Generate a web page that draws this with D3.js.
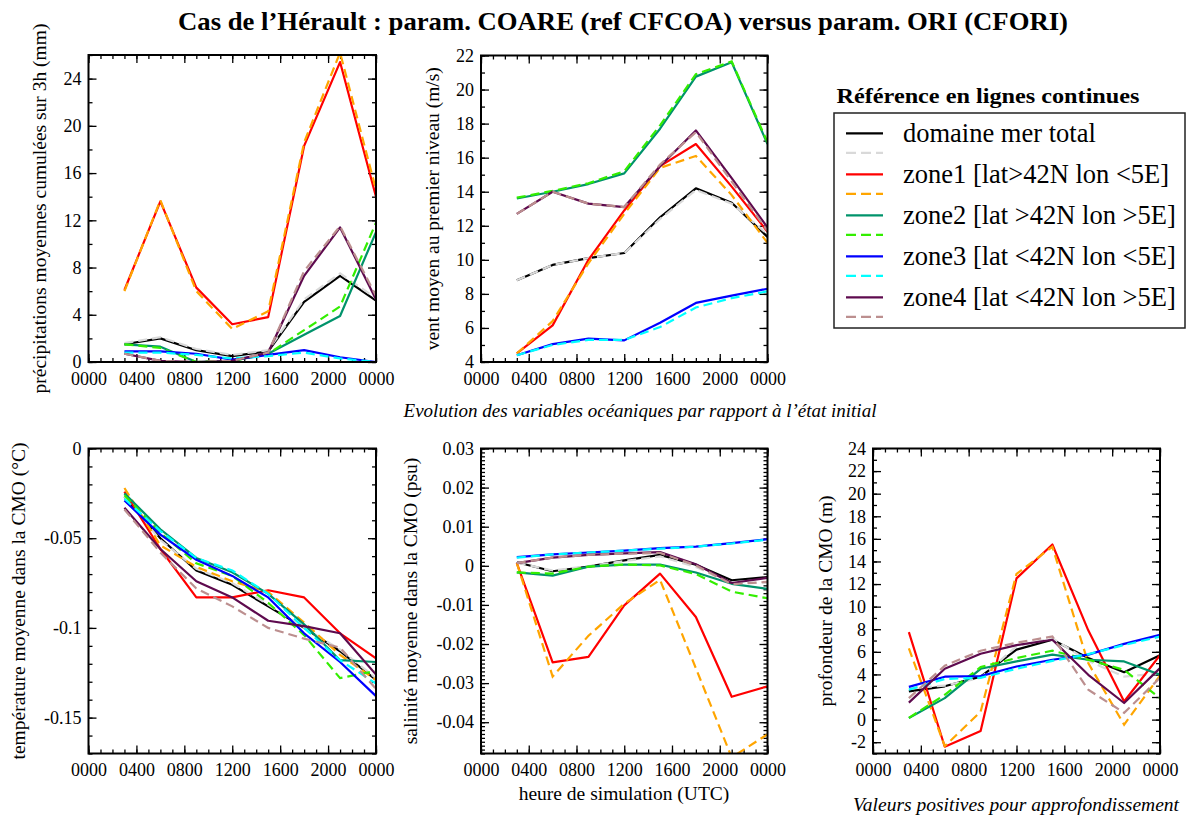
<!DOCTYPE html>
<html><head><meta charset="utf-8">
<script src="https://cdn.jsdelivr.net/npm/d3@7"></script>
<style>
body{margin:0;background:#fff}
svg{display:block}
text{font-family:"Liberation Serif","Times New Roman",serif;fill:#000}
</style>
</head><body>
<svg id="c" width="1186" height="816"></svg>
<script>
// ---------- categories / ticks ----------
const hours = [3, 6, 9, 12, 15, 18, 21, 24];
const xTickValues = [0, 4, 8, 12, 16, 20, 24];
const xTickLabels = ["0000", "0400", "0800", "1200", "1600", "2000", "0000"];
const seriesNames = ["domaine mer total", "zone1 [lat>42N lon <5E]", "zone2 [lat >42N lon >5E]", "zone3 [lat <42N lon <5E]", "zone4 [lat <42N lon >5E]"];
const refColors = ["#000000", "#ff0000", "#00936b", "#0000ff", "#5e0a4e"];
const oriColors = ["#d9d9d9", "#ffa500", "#33ee00", "#00ffff", "#bc8f8f"];

// ---------- series values (rows: total, zone1, zone2, zone3, zone4) ----------
const precipRef = [
  [1.5, 2.0, 1.0, 0.5, 0.9, 5.1, 7.3, 5.2],
  [6.1, 13.6, 6.3, 3.2, 3.8, 18.3, 25.4, 14.0],
  [1.5, 1.3, 0.0, 0.1, 0.7, 2.3, 3.9, 11.0],
  [0.9, 0.9, 0.7, 0.2, 0.6, 1.0, 0.4, 0.0],
  [0.7, 0.1, 0.0, 0.1, 0.8, 7.3, 11.4, 5.3]
];
const precipOri = [
  [1.6, 2.1, 1.1, 0.6, 1.0, 5.3, 7.5, 5.4],
  [6.0, 13.7, 6.0, 2.8, 4.3, 18.6, 26.2, 14.6],
  [1.5, 1.2, 0.0, 0.1, 0.7, 2.7, 4.7, 11.8],
  [0.8, 0.8, 0.6, 0.3, 0.5, 0.8, 0.3, 0.0],
  [0.7, 0.1, 0.0, 0.1, 0.8, 7.7, 11.5, 5.6]
];
const windRef = [
  [8.8, 9.7, 10.1, 10.4, 12.5, 14.2, 13.35, 11.35],
  [4.5, 6.15, 10.0, 12.9, 15.5, 16.8, 14.3, 11.65],
  [13.6, 14.0, 14.45, 15.08, 17.7, 20.76, 21.6, 16.8],
  [4.4, 5.05, 5.37, 5.27, 6.3, 7.47, 7.9, 8.3],
  [12.7, 14.0, 13.3, 13.1, 15.5, 17.6, 14.8, 11.9]
];
const windOri = [
  [8.8, 9.7, 10.1, 10.4, 12.4, 14.1, 13.3, 11.5],
  [4.5, 6.4, 9.8, 12.7, 15.4, 16.1, 13.8, 11.0],
  [13.65, 14.05, 14.5, 15.2, 17.9, 20.9, 21.65, 16.9],
  [4.4, 5.0, 5.3, 5.3, 6.05, 7.2, 7.75, 8.15],
  [12.7, 14.0, 13.3, 13.1, 15.6, 17.5, 14.6, 11.7]
];
const tempRef = [
  [-0.027, -0.050, -0.068, -0.076, -0.088, -0.100, -0.113, -0.129],
  [-0.024, -0.056, -0.083, -0.083, -0.079, -0.083, -0.103, -0.117],
  [-0.025, -0.045, -0.061, -0.069, -0.081, -0.098, -0.118, -0.119],
  [-0.029, -0.048, -0.062, -0.071, -0.083, -0.103, -0.119, -0.138],
  [-0.033, -0.056, -0.074, -0.083, -0.096, -0.099, -0.103, -0.126]
];
const tempOri = [
  [-0.027, -0.051, -0.067, -0.075, -0.087, -0.100, -0.112, -0.128],
  [-0.022, -0.054, -0.066, -0.074, -0.080, -0.097, -0.115, -0.129],
  [-0.026, -0.047, -0.064, -0.071, -0.086, -0.104, -0.128, -0.124],
  [-0.028, -0.046, -0.061, -0.068, -0.081, -0.100, -0.118, -0.131],
  [-0.034, -0.058, -0.078, -0.088, -0.100, -0.106, -0.111, -0.134]
];
const salRef = [
  [0.0009, -0.0014, -0.0002, 0.0014, 0.0028, 0.0003, -0.0037, -0.0029],
  [0.0007, -0.0247, -0.0233, -0.0101, -0.0020, -0.0131, -0.0335, -0.0308],
  [-0.0017, -0.0025, -0.0002, 0.0003, 0.0003, -0.0017, -0.0046, -0.0059],
  [0.0022, 0.0029, 0.0034, 0.0039, 0.0045, 0.0049, 0.0058, 0.0068],
  [0.0007, 0.0021, 0.0028, 0.0032, 0.0035, 0.0004, -0.0044, -0.0031]
];
const salOri = [
  [0.0008, -0.0012, -0.0001, 0.0012, 0.0024, -0.0003, -0.0045, -0.0043],
  [0.0007, -0.0283, -0.0179, -0.0097, -0.0036, -0.0262, -0.0490, -0.0431],
  [-0.0017, -0.0020, -0.0002, 0.0003, 0.0001, -0.0021, -0.0066, -0.0083],
  [0.0021, 0.0029, 0.0034, 0.0039, 0.0044, 0.0049, 0.0057, 0.0067],
  [0.0007, 0.0021, 0.0028, 0.0031, 0.0033, 0.0001, -0.0047, -0.0041]
];
const depthRef = [
  [2.5, 2.95, 3.8, 6.2, 7.07, 5.45, 4.2, 5.7],
  [7.75, -2.4, -1.0, 12.5, 15.5, 7.9, 1.6, 5.7],
  [0.15, 1.9, 4.5, 5.15, 5.75, 5.3, 5.15, 3.97],
  [2.9, 3.8, 3.85, 4.7, 5.3, 5.75, 6.7, 7.5],
  [1.5, 4.5, 5.83, 6.6, 7.07, 3.97, 1.47, 4.56]
];
const depthOri = [
  [2.8, 3.0, 3.7, 6.5, 7.2, 5.2, 3.8, 4.1],
  [6.3, -2.35, 0.7, 12.9, 15.3, 5.0, -0.45, 3.9],
  [0.15, 2.2, 4.65, 5.45, 6.1, 5.3, 4.4, 1.9],
  [2.65, 3.6, 3.7, 4.5, 5.2, 5.8, 6.6, 7.35],
  [1.9, 4.77, 6.1, 6.8, 7.36, 2.65, 0.6, 3.7]
];

// ---------- y tick labels ----------
const precipTicks = [0, 4, 8, 12, 16, 20, 24];
const windTicks = [4, 6, 8, 10, 12, 14, 16, 18, 20, 22];
const tempTicks = [0, -0.05, -0.1, -0.15];
const tempTickLabels = ["0", "-0.05", "-0.1", "-0.15"];
const salTicks = [0.03, 0.02, 0.01, 0, -0.01, -0.02, -0.03, -0.04];
const salTickLabels = ["0.03", "0.02", "0.01", "0", "-0.01", "-0.02", "-0.03", "-0.04"];
const depthTicks = [-2, 0, 2, 4, 6, 8, 10, 12, 14, 16, 18, 20, 22, 24];

// ---------- layout ----------
const svg = d3.select("#c");
svg.append("rect").attr("width", 1186).attr("height", 816).attr("fill", "#fff");

const panels = [
  {ref: precipRef, ori: precipOri, dom: [0, 26], ticks: precipTicks, labels: precipTicks.map(String), minorStep: 2,
   box: [88.5, 55, 376, 362], label: "précipitations moyennes cumulées sur 3h (mm)", lx: 46},
  {ref: windRef, ori: windOri, dom: [4, 22], ticks: windTicks, labels: windTicks.map(String), minorStep: 1,
   box: [481, 55.5, 767.5, 362], label: "vent moyen au premier niveau (m/s)", lx: 439},
  {ref: tempRef, ori: tempOri, dom: [-0.17, 0], ticks: tempTicks, labels: tempTickLabels, minorStep: 0.01,
   box: [88.5, 448.5, 376, 753.5], label: "température moyenne dans la CMO (°C)", lx: 25},
  {ref: salRef, ori: salOri, dom: [-0.048, 0.03], ticks: salTicks, labels: salTickLabels, minorStep: 0.001,
   box: [481, 448.5, 767.5, 753.5], label: "salinité moyenne dans la CMO (psu)", lx: 417},
  {ref: depthRef, ori: depthOri, dom: [-3, 24], ticks: depthTicks, labels: depthTicks.map(String), minorStep: 1,
   box: [873, 448.5, 1160, 753.5], label: "profondeur de la CMO (m)", lx: 832}
];

panels.forEach((p, pi) => {
  const [x0, y0, x1, y1] = p.box;
  const x = d3.scaleLinear().domain([0, 24]).range([x0, x1]);
  const y = d3.scaleLinear().domain(p.dom).range([y1, y0]);
  const g = svg.append("g");
  const clipId = "clip" + pi;
  g.append("clipPath").attr("id", clipId).append("rect")
    .attr("x", x0).attr("y", y0).attr("width", x1 - x0).attr("height", y1 - y0);

  // minor/major ticks
  const eps = 1e-9;
  const minorY = d3.range(Math.ceil(p.dom[0] / p.minorStep - eps), Math.floor(p.dom[1] / p.minorStep + eps) + 1)
    .map(k => +(k * p.minorStep).toFixed(6));
  const minorX = d3.range(0, 25, 1);
  const tickStyle = sel => { sel.select(".domain").remove(); sel.selectAll("line").attr("stroke", "#000").attr("stroke-width", 1.3); };

  g.append("g").attr("transform", `translate(${x0},0)`).call(d3.axisLeft(y).tickValues(minorY).tickSize(-4).tickFormat("")).call(tickStyle);
  g.append("g").attr("transform", `translate(${x1},0)`).call(d3.axisRight(y).tickValues(minorY).tickSize(-4).tickFormat("")).call(tickStyle);
  g.append("g").attr("transform", `translate(0,${y1})`).call(d3.axisBottom(x).tickValues(minorX).tickSize(-4).tickFormat("")).call(tickStyle);
  g.append("g").attr("transform", `translate(0,${y0})`).call(d3.axisTop(x).tickValues(minorX).tickSize(-4).tickFormat("")).call(tickStyle);

  const yl = g.append("g").attr("transform", `translate(${x0},0)`)
    .call(d3.axisLeft(y).tickValues(p.ticks).tickSize(-8).tickPadding(7).tickFormat((d, i) => p.labels[i]))
    .call(tickStyle);
  yl.selectAll("text").attr("font-size", 18).attr("font-family", "Liberation Serif").attr("fill", "#000");
  g.append("g").attr("transform", `translate(${x1},0)`).call(d3.axisRight(y).tickValues(p.ticks).tickSize(-8).tickFormat("")).call(tickStyle);
  const xl = g.append("g").attr("transform", `translate(0,${y1})`)
    .call(d3.axisBottom(x).tickValues(xTickValues).tickSize(-8).tickPadding(10).tickFormat((d, i) => xTickLabels[i]))
    .call(tickStyle);
  xl.selectAll("text").attr("font-size", 18).attr("font-family", "Liberation Serif").attr("fill", "#000");
  g.append("g").attr("transform", `translate(0,${y0})`).call(d3.axisTop(x).tickValues(xTickValues).tickSize(-8).tickFormat("")).call(tickStyle);

  // lines
  const line = d3.line().x((d, i) => x(hours[i])).y(d => y(d));
  const lg = g.append("g").attr("clip-path", `url(#${clipId})`);
  for (let s = 0; s < 5; s++) {
    lg.append("path").attr("d", line(p.ref[s])).attr("fill", "none")
      .attr("stroke", refColors[s]).attr("stroke-width", 2.2).attr("stroke-linejoin", "round");
    lg.append("path").attr("d", line(p.ori[s])).attr("fill", "none")
      .attr("stroke", oriColors[s]).attr("stroke-width", 2.2).attr("stroke-dasharray", "9,5");
  }

  // frame
  g.append("rect").attr("x", x0).attr("y", y0).attr("width", x1 - x0).attr("height", y1 - y0)
    .attr("fill", "none").attr("stroke", "#000").attr("stroke-width", 2);

  // y label
  const cy = (y0 + y1) / 2;
  g.append("text").attr("transform", `translate(${p.lx},${cy}) rotate(-90)`)
    .attr("text-anchor", "middle").attr("font-size", 19.5).text(p.label);
});

// ---------- titles ----------
svg.append("text").attr("x", 623).attr("y", 30).attr("text-anchor", "middle")
  .attr("font-size", 25).attr("font-weight", "bold")
  .attr("textLength", 890).attr("lengthAdjust", "spacingAndGlyphs")
  .text("Cas de l\u2019Hérault : param. COARE (ref CFCOA) versus param. ORI (CFORI)");
svg.append("text").attr("x", 640).attr("y", 417).attr("text-anchor", "middle")
  .attr("font-size", 19).attr("font-style", "italic")
  .text("Evolution des variables océaniques par rapport à l\u2019état initial");
svg.append("text").attr("x", 624).attr("y", 800).attr("text-anchor", "middle")
  .attr("font-size", 19.5).text("heure de simulation (UTC)");
svg.append("text").attr("x", 1179).attr("y", 811).attr("text-anchor", "end")
  .attr("font-size", 19.5).attr("font-style", "italic")
  .text("Valeurs positives pour approfondissement");

// ---------- legend ----------
const leg = svg.append("g");
leg.append("text").attr("x", 836.5).attr("y", 103).attr("font-size", 22).attr("font-weight", "bold")
  .attr("textLength", 303).attr("lengthAdjust", "spacingAndGlyphs")
  .text("Référence en lignes continues");
leg.append("rect").attr("x", 834).attr("y", 113).attr("width", 351).attr("height", 215)
  .attr("fill", "#fff").attr("stroke", "#222").attr("stroke-width", 1.5);
seriesNames.forEach((name, i) => {
  const ys = 133.3 + i * 41;
  leg.append("line").attr("x1", 846).attr("x2", 883).attr("y1", ys).attr("y2", ys)
    .attr("stroke", refColors[i]).attr("stroke-width", 2.2);
  leg.append("line").attr("x1", 846).attr("x2", 883).attr("y1", ys + 19.5).attr("y2", ys + 19.5)
    .attr("stroke", oriColors[i]).attr("stroke-width", 2.2).attr("stroke-dasharray", "10,5");
  leg.append("text").attr("x", 903).attr("y", ys + 8.5).attr("font-size", 26.5).text(name);
});
</script>
</body></html>
